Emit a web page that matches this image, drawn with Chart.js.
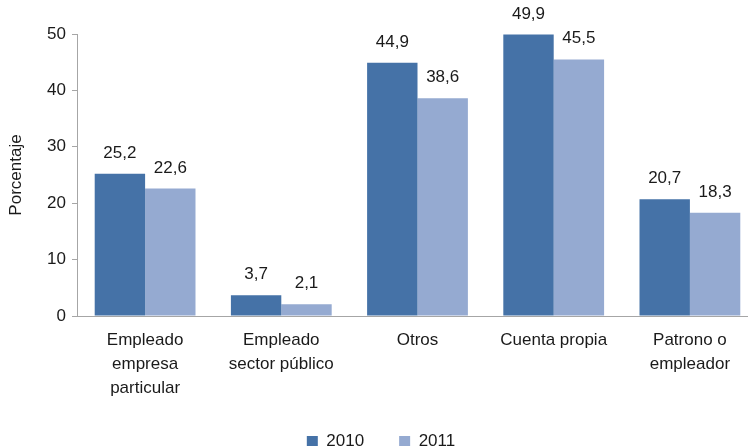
<!DOCTYPE html>
<html>
<head>
<meta charset="utf-8">
<script src="https://cdn.jsdelivr.net/npm/chart.js@4"></script>
<style>
    html, body { margin: 0; padding: 0; background: #ffffff; }
    #wrap { width: 748px; height: 448px; }
</style>
</head>
<body>
<div id="wrap"><canvas id="chart" width="748" height="448"></canvas></div>
<script>
const categories = [
    ['Empleado', 'empresa', 'particular'],
    ['Empleado', 'sector público'],
    'Otros',
    'Cuenta propia',
    ['Patrono o', 'empleador']
];
const values2010 = [25.2, 3.7, 44.9, 49.9, 20.7];
const values2011 = [22.6, 2.1, 38.6, 45.5, 18.3];
const yTicks = [0, 10, 20, 30, 40, 50];

const FONT = '"Liberation Sans", Arial, sans-serif';

// Draws the value above each bar, with comma decimals
const valueLabels = {
    id: 'valueLabels',
    afterDatasetsDraw(chart) {
        const ctx = chart.ctx;
        ctx.save();
        ctx.font = '17px ' + FONT;
        ctx.fillStyle = '#1a1a1a';
        ctx.textAlign = 'center';
        ctx.textBaseline = 'alphabetic';
        chart.data.datasets.forEach((ds, i) => {
            chart.getDatasetMeta(i).data.forEach((bar, j) => {
                const txt = ds.data[j].toFixed(1).replace('.', ',');
                ctx.fillText(txt, bar.x, bar.y - 16);
            });
        });
        ctx.restore();
    }
};

// Legend keeps wide spacing between items but only takes a thin strip at the bottom;
// the category axis runs a little past the right edge, as in the original
const layoutTweak = {
    id: 'layoutTweak',
    afterInit(chart) {
        const lg = chart.legend;
        if (!lg) return;
        const origFit = lg.fit.bind(lg);
        lg.fit = function () { origFit(); this.height = 48; };
    },
    afterLayout(chart) {
        const lg = chart.legend;
        if (lg) {
            const dy = 398 - lg.top;
            lg.top += dy;
            lg.bottom += dy;
            lg.left += 5;
            lg.right += 5;
        }
        const x = chart.scales.x;
        x.right = 758;
        x.width = x.right - x.left;
        x.configure();
    }
};

new Chart(document.getElementById('chart').getContext('2d'), {
    type: 'bar',
    data: {
        labels: categories,
        datasets: [{
            label: '2010',
            data: values2010,
            backgroundColor: '#4572a7',
            categoryPercentage: 0.74,
            barPercentage: 1.0
        }, {
            label: '2011',
            data: values2011,
            backgroundColor: '#95aad1',
            categoryPercentage: 0.74,
            barPercentage: 1.0
        }]
    },
    options: {
        responsive: false,
        animation: false,
        layout: { padding: { top: 34, right: 0, left: 4, bottom: 0 } },
        plugins: {
            legend: {
                position: 'bottom',
                labels: {
                    color: '#1a1a1a',
                    font: { family: FONT, size: 17 },
                    boxWidth: 11,
                    boxHeight: 11,
                    padding: 35
                }
            },
            tooltip: { enabled: false }
        },
        scales: {
            x: {
                grid: { display: false },
                border: { display: true, color: '#a6a6a6' },
                ticks: {
                    color: '#1a1a1a',
                    font: { family: FONT, size: 17, lineHeight: 1.42 },
                    maxRotation: 0,
                    padding: 4
                },
                afterFit: scale => { scale.height = 84; }
            },
            y: {
                min: 0,
                max: 50,
                afterBuildTicks: axis => { axis.ticks = yTicks.map(v => ({ value: v })); },
                afterFit: scale => { scale.width = 73; },
                grid: { drawOnChartArea: false, drawTicks: true, tickLength: 5, color: '#a6a6a6' },
                border: { display: true, color: '#a6a6a6' },
                ticks: {
                    color: '#1a1a1a',
                    font: { family: FONT, size: 17 },
                    padding: 6
                },
                title: {
                    display: true,
                    text: 'Porcentaje',
                    color: '#1a1a1a',
                    font: { family: FONT, size: 17 },
                    padding: { top: 2, bottom: 0 }
                }
            }
        }
    },
    plugins: [valueLabels, layoutTweak]
});
</script>
</body>
</html>
